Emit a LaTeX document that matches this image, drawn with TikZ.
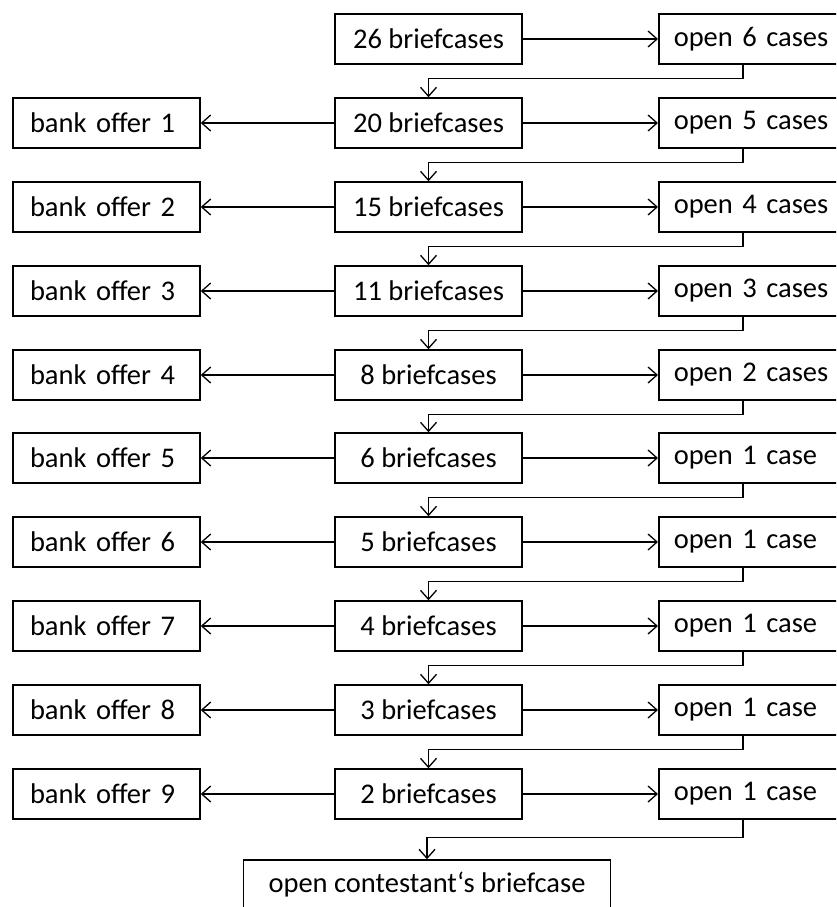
\documentclass[tikz,border=0pt]{standalone}
\usepackage{fontspec}
\setmainfont{Carlito}
\usetikzlibrary{arrows.meta}

\begin{document}
\begin{tikzpicture}[x=1pt,y=-1pt,
  box/.style={draw=black,line width=1.5pt,minimum height=50pt,inner ysep=0pt,
    font=\fontsize{28.5}{34}\selectfont},
  cases/.style={box,minimum width=187pt},
  offer/.style={box,inner xsep=17pt,text width=153pt,align=left},
  opens/.style={box,anchor=west,inner xsep=15pt,text width=170pt,align=left},
  arr/.style={line width=1.3pt,-{Straight Barb[length=9pt,width=16pt,line width=1.3pt]}}]
\useasboundingbox (0,0) rectangle (836,907);
\clip (0,0) rectangle (836,907);
% briefcases left in play
\node [cases] (m1) at (428.5,39) {26 briefcases};
\node [cases] (m2) at (428.5,123) {20 briefcases};
\node [cases] (m3) at (428.5,207) {15 briefcases};
\node [cases] (m4) at (428.5,291) {11 briefcases};
\node [cases] (m5) at (428.5,375) {8 briefcases};
\node [cases] (m6) at (428.5,458) {6 briefcases};
\node [cases] (m7) at (428.5,542) {5 briefcases};
\node [cases] (m8) at (428.5,626) {4 briefcases};
\node [cases] (m9) at (428.5,710) {3 briefcases};
\node [cases] (m10) at (428.5,794) {2 briefcases};
% cases to open
\node [opens] (c1) at (658,39) {open 6 cases};
\node [opens] (c2) at (658,123) {open 5 cases};
\node [opens] (c3) at (658,207) {open 4 cases};
\node [opens] (c4) at (658,291) {open 3 cases};
\node [opens] (c5) at (658,375) {open 2 cases};
\node [opens] (c6) at (658,458) {open 1 case};
\node [opens] (c7) at (658,542) {open 1 case};
\node [opens] (c8) at (658,626) {open 1 case};
\node [opens] (c9) at (658,710) {open 1 case};
\node [opens] (c10) at (658,794) {open 1 case};
% bank offers
\node [offer] (o1) at (106.5,123) {bank offer 1};
\node [offer] (o2) at (106.5,207) {bank offer 2};
\node [offer] (o3) at (106.5,291) {bank offer 3};
\node [offer] (o4) at (106.5,375) {bank offer 4};
\node [offer] (o5) at (106.5,458) {bank offer 5};
\node [offer] (o6) at (106.5,542) {bank offer 6};
\node [offer] (o7) at (106.5,626) {bank offer 7};
\node [offer] (o8) at (106.5,710) {bank offer 8};
\node [offer] (o9) at (106.5,794) {bank offer 9};
\node [box,minimum width=367pt,inner xsep=0pt] (final) at (427,885)
  {open contestant‘s briefcase};
% to the right
\draw [arr] (m1) -- (c1);
\draw [arr] (m2) -- (c2);
\draw [arr] (m3) -- (c3);
\draw [arr] (m4) -- (c4);
\draw [arr] (m5) -- (c5);
\draw [arr] (m6) -- (c6);
\draw [arr] (m7) -- (c7);
\draw [arr] (m8) -- (c8);
\draw [arr] (m9) -- (c9);
\draw [arr] (m10) -- (c10);
% to the left
\draw [arr] (m2) -- (o1);
\draw [arr] (m3) -- (o2);
\draw [arr] (m4) -- (o3);
\draw [arr] (m5) -- (o4);
\draw [arr] (m6) -- (o5);
\draw [arr] (m7) -- (o6);
\draw [arr] (m8) -- (o7);
\draw [arr] (m9) -- (o8);
\draw [arr] (m10) -- (o9);
% back to the middle
\draw [arr] ([xshift=85pt]c1.south west) -- ++(0,14) -| (m2.north);
\draw [arr] ([xshift=85pt]c2.south west) -- ++(0,14) -| (m3.north);
\draw [arr] ([xshift=85pt]c3.south west) -- ++(0,14) -| (m4.north);
\draw [arr] ([xshift=85pt]c4.south west) -- ++(0,14) -| (m5.north);
\draw [arr] ([xshift=85pt]c5.south west) -- ++(0,14) -| (m6.north);
\draw [arr] ([xshift=85pt]c6.south west) -- ++(0,14) -| (m7.north);
\draw [arr] ([xshift=85pt]c7.south west) -- ++(0,14) -| (m8.north);
\draw [arr] ([xshift=85pt]c8.south west) -- ++(0,14) -| (m9.north);
\draw [arr] ([xshift=85pt]c9.south west) -- ++(0,14) -| (m10.north);
\draw [arr] ([xshift=85pt]c10.south west) -- ++(0,18) -| (final.north);
\end{tikzpicture}
\end{document}
